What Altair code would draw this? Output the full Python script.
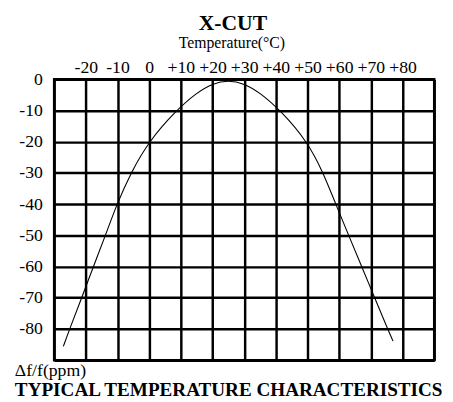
import json
import altair as alt
import pandas as pd

# Curve (grid crossings and points near the turnover)
temp_c = [-27.1, -25.1, -21.3, -17.6, -13.8, -10.2, -5.8, -0.2, 8.5, 15, 20, 25, 30, 35,
          41.5, 50, 55.0, 58.9, 63.0, 67.1, 71.2, 75.3, 77.0]
delta_ppm = [-85.6, -80, -70, -60, -50, -40, -30, -20, -10, -4.3, -1.3, -0.3, -1.3, -4.3,
             -10, -20, -30, -40, -50, -60, -70, -80, -83.9]

# Axes / grid
x_grid = [-30, -20, -10, 0, 10, 20, 30, 40, 50, 60, 70, 80, 90]
x_tick_labels = ["", "-20", "-10", "0", "+10", "+20", "+30", "+40", "+50", "+60", "+70", "+80", ""]
y_grid = [0, -10, -20, -30, -40, -50, -60, -70, -80, -90]
y_tick_labels = ["0", "-10", "-20", "-30", "-40", "-50", "-60", "-70", "-80", ""]

title_text = "X-CUT"
x_title = "Temperature(°C)"
y_title = "Δf/f(ppm)"
footer_text = "TYPICAL TEMPERATURE CHARACTERISTICS"

FONT = "Liberation Serif"

df = pd.DataFrame({"temp": temp_c, "ppm": delta_ppm})

x_expr = f"{json.dumps(x_tick_labels)}[indexof({json.dumps(x_grid)}, datum.value)]"
y_expr = f"{json.dumps(y_tick_labels)}[indexof({json.dumps(y_grid)}, datum.value)]"

x_enc = alt.X(
    "temp:Q",
    scale=alt.Scale(domain=[-30, 90], nice=False, zero=False),
    axis=alt.Axis(
        orient="top", values=x_grid, labelExpr=x_expr, grid=True, gridColor="black",
        gridWidth=2.5, gridOpacity=1, ticks=False, domain=False, title=None,
        labelFont=FONT, labelFontSize=18, labelColor="black", labelPadding=3,
        labelFlush=False, labelOverlap=False,
    ),
)
y_enc = alt.Y(
    "ppm:Q",
    scale=alt.Scale(domain=[-90, 0], nice=False, zero=False),
    axis=alt.Axis(
        orient="left", values=y_grid, labelExpr=y_expr, grid=True, gridColor="black",
        gridWidth=2.5, gridOpacity=1, ticks=False, domain=False, title=None,
        labelFont=FONT, labelFontSize=18, labelColor="black", labelPadding=12,
        labelFlush=False, labelOverlap=False,
    ),
)

curve = alt.Chart(df).mark_line(color="black", strokeWidth=1.1, interpolate="basis", clip=False).encode(
    x=x_enc, y=y_enc
)


def label(text, x, y, size, weight="normal", align="center"):
    return alt.Chart(pd.DataFrame({"t": [text]})).mark_text(
        font=FONT, fontSize=size, fontWeight=weight, align=align, baseline="alphabetic", color="black"
    ).encode(x=alt.value(x), y=alt.value(y), text="t:N")


chart = alt.layer(
    curve,
    label(title_text, 182, -50, 22, "bold"),
    label(x_title, 181, -32, 16),
    label(y_title, -40, 302, 18, align="left"),
    label(footer_text, -40, 322, 19.5, "bold", align="left"),
).properties(
    width=387,
    height=286,
    autosize=alt.AutoSizeParams(type="none"),
    padding={"left": 47, "top": 69, "right": 11, "bottom": 39},
).configure_view(stroke="black", strokeWidth=2.5)

chart.save("out.html", embed_options={"renderer": "svg", "actions": False})
